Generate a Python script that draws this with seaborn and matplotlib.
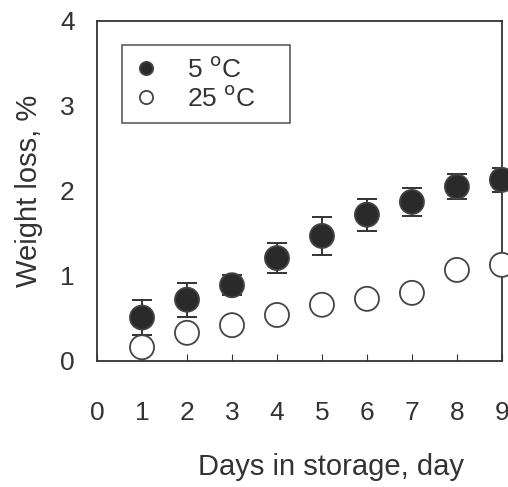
import matplotlib
matplotlib.use("Agg")
import matplotlib.pyplot as plt
import pandas as pd
import seaborn as sns

# Values
days = [1, 2, 3, 4, 5, 6, 7, 8, 9]
loss_5c = [0.51, 0.72, 0.89, 1.21, 1.47, 1.72, 1.87, 2.05, 2.13]
err_5c = [0.21, 0.20, 0.12, 0.18, 0.22, 0.19, 0.16, 0.15, 0.14]
loss_25c = [0.16, 0.33, 0.42, 0.54, 0.66, 0.73, 0.80, 1.07, 1.13]

x_ticks = list(range(10))
y_ticks = [0, 1, 2, 3, 4]

sns.set_theme(style="white")
plt.rcParams["font.family"] = ["Liberation Sans", "DejaVu Sans"]

lab5 = "5 $^{\\rm o}$C"
lab25 = "25 $^{\\rm o}$C"
df = pd.DataFrame({
    "day": days * 2,
    "loss": loss_5c + loss_25c,
    "temp": [lab5] * len(days) + [lab25] * len(days),
})

fig = plt.figure(figsize=(5.08, 4.87), dpi=100)
ax = fig.add_axes([0.191, 0.259, 0.797, 0.698])

ax.errorbar(days, loss_5c, yerr=err_5c, fmt="none", ecolor="#333333",
            elinewidth=1.4, capsize=7, capthick=1.4, zorder=2)

sns.scatterplot(
    data=df, x="day", y="loss", hue="temp", style="temp",
    palette={lab5: "#2a2a2a", lab25: "white"},
    markers={lab5: "o", lab25: "o"},
    s=300, edgecolor="#444444", linewidth=1.3, ax=ax, zorder=3, clip_on=False,
)

ax.set_xlim(0, 9)
ax.set_ylim(0, 4)
ax.set_xticks(x_ticks)
ax.set_yticks(y_ticks)
ax.tick_params(axis="x", direction="in", length=5, width=0.8, pad=29,
               labelsize=19, colors="#333333", bottom=True)
ax.tick_params(axis="y", length=0, pad=16, labelsize=19, colors="#333333")
for s in ax.spines.values():
    s.set_color("#333333")
    s.set_linewidth(1.3)

ax.set_xlabel("Days in storage, day", fontsize=21, color="#333333")
ax.xaxis.set_label_coords(0.578, -0.27)
ax.set_ylabel("Weight loss, %", fontsize=21, color="#333333", labelpad=12)

leg = ax.legend(loc="upper left", bbox_to_anchor=(0.062, 0.929, 0.415, 0.0),
                mode="expand", fontsize=19, frameon=True, fancybox=False,
                edgecolor="#333333", handlelength=0.9, handletextpad=1.1,
                borderpad=0.45, labelspacing=0.15, markerscale=0.55,
                borderaxespad=0)
leg.get_frame().set_linewidth(1.2)
for t in leg.get_texts():
    t.set_color("#333333")

fig.savefig("out.png", dpi=100)
